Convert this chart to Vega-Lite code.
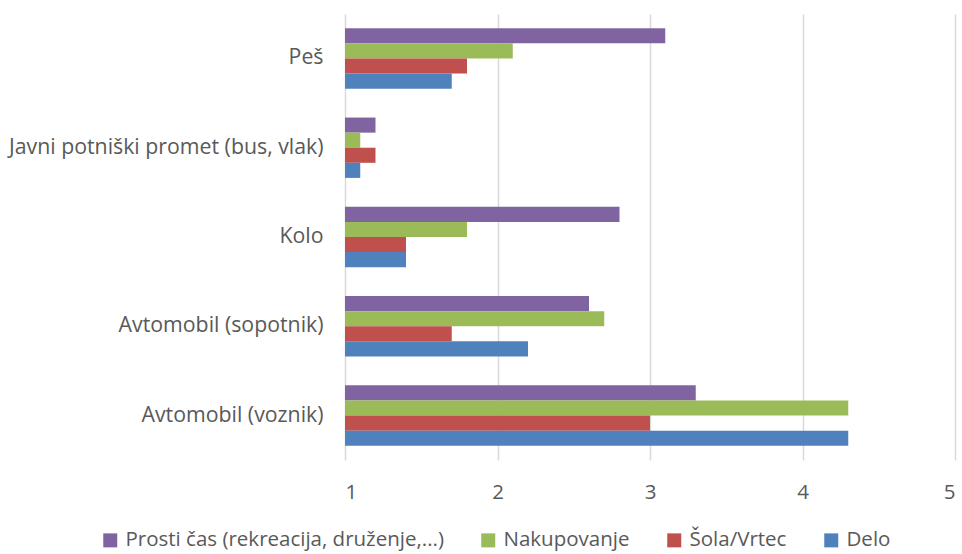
{
  "$schema": "https://vega.github.io/schema/vega-lite/v6.json",
  "width": 610,
  "height": 446,
  "autosize": {"type": "none"},
  "padding": {"left": 345, "top": 14, "right": 7, "bottom": 94},
  "background": "white",
  "config": {
    "view": {"stroke": null},
    "font": "Open Sans",
    "axis": {"labelFont": "Open Sans", "labelColor": "#595959", "labelFontSize": 20.5, "labelLimit": 0},
    "legend": {"labelFont": "Open Sans", "labelColor": "#595959", "labelFontSize": 20.5, "labelLimit": 0}
  },
  "data": {
    "values": [
      {"kategorija": "Peš", "namen": "Prosti čas (rekreacija, druženje,...)", "vrednost": 3.1},
      {"kategorija": "Peš", "namen": "Nakupovanje", "vrednost": 2.1},
      {"kategorija": "Peš", "namen": "Šola/Vrtec", "vrednost": 1.8},
      {"kategorija": "Peš", "namen": "Delo", "vrednost": 1.7},
      {"kategorija": "Javni potniški promet (bus, vlak)", "namen": "Prosti čas (rekreacija, druženje,...)", "vrednost": 1.2},
      {"kategorija": "Javni potniški promet (bus, vlak)", "namen": "Nakupovanje", "vrednost": 1.1},
      {"kategorija": "Javni potniški promet (bus, vlak)", "namen": "Šola/Vrtec", "vrednost": 1.2},
      {"kategorija": "Javni potniški promet (bus, vlak)", "namen": "Delo", "vrednost": 1.1},
      {"kategorija": "Kolo", "namen": "Prosti čas (rekreacija, druženje,...)", "vrednost": 2.8},
      {"kategorija": "Kolo", "namen": "Nakupovanje", "vrednost": 1.8},
      {"kategorija": "Kolo", "namen": "Šola/Vrtec", "vrednost": 1.4},
      {"kategorija": "Kolo", "namen": "Delo", "vrednost": 1.4},
      {"kategorija": "Avtomobil (sopotnik)", "namen": "Prosti čas (rekreacija, druženje,...)", "vrednost": 2.6},
      {"kategorija": "Avtomobil (sopotnik)", "namen": "Nakupovanje", "vrednost": 2.7},
      {"kategorija": "Avtomobil (sopotnik)", "namen": "Šola/Vrtec", "vrednost": 1.7},
      {"kategorija": "Avtomobil (sopotnik)", "namen": "Delo", "vrednost": 2.2},
      {"kategorija": "Avtomobil (voznik)", "namen": "Prosti čas (rekreacija, druženje,...)", "vrednost": 3.3},
      {"kategorija": "Avtomobil (voznik)", "namen": "Nakupovanje", "vrednost": 4.3},
      {"kategorija": "Avtomobil (voznik)", "namen": "Šola/Vrtec", "vrednost": 3.0},
      {"kategorija": "Avtomobil (voznik)", "namen": "Delo", "vrednost": 4.3}
    ]
  },
  "mark": {"type": "bar"},
  "encoding": {
    "y": {
      "field": "kategorija",
      "type": "nominal",
      "sort": ["Peš", "Javni potniški promet (bus, vlak)", "Kolo", "Avtomobil (sopotnik)", "Avtomobil (voznik)"],
      "scale": {"paddingInner": 0.324, "paddingOuter": 0.16},
      "axis": {"title": null, "domain": false, "ticks": false, "labelPadding": 22, "grid": false, "labelFontSize": 21.3}
    },
    "yOffset": {
      "field": "namen",
      "type": "nominal",
      "sort": ["Prosti čas (rekreacija, druženje,...)", "Nakupovanje", "Šola/Vrtec", "Delo"],
      "scale": {"paddingInner": 0, "paddingOuter": 0}
    },
    "x": {
      "field": "vrednost",
      "type": "quantitative",
      "scale": {"domain": [1, 5], "zero": false, "nice": false},
      "axis": {"title": null, "domain": false, "ticks": false, "values": [1, 2, 3, 4, 5], "format": "d", "labelPadding": 22, "gridColor": "#d9d9d9", "gridWidth": 1.5}
    },
    "x2": {"datum": 1},
    "color": {
      "field": "namen",
      "type": "nominal",
      "scale": {
        "domain": ["Prosti čas (rekreacija, druženje,...)", "Nakupovanje", "Šola/Vrtec", "Delo"],
        "range": ["#8064A2", "#9BBB59", "#C0504D", "#4F81BD"]
      },
      "legend": {"title": null, "orient": "none", "direction": "horizontal", "legendX": -245, "legendY": 516, "symbolType": "square", "symbolSize": 196, "symbolStrokeWidth": 0, "columnPadding": 34, "labelOffset": 5}
    }
  }
}
